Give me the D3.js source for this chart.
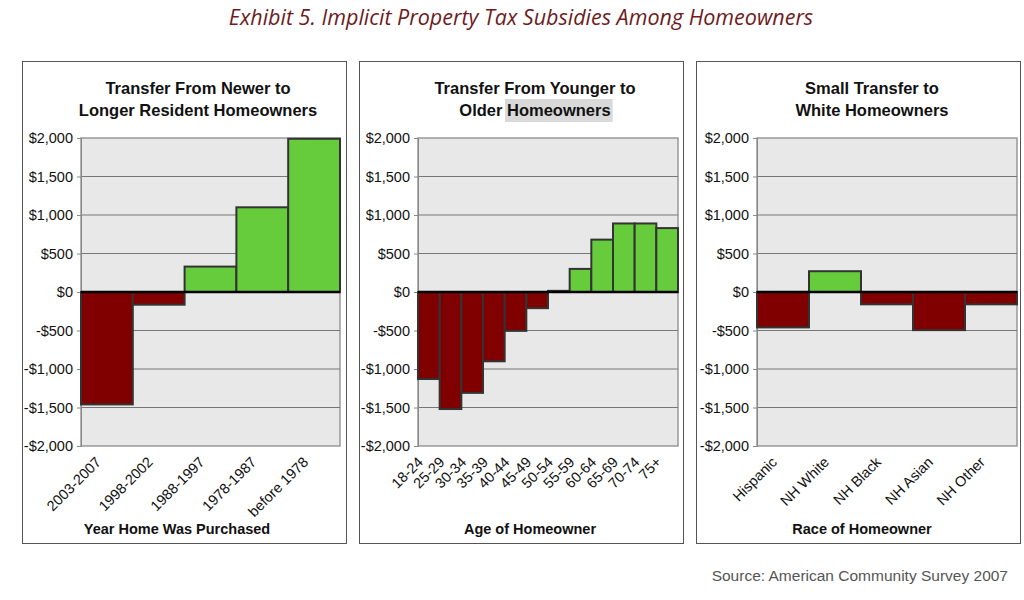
<!DOCTYPE html>
<html lang="en">
<head>
<meta charset="UTF-8">
<title>Exhibit 5</title>
<script src="https://cdn.jsdelivr.net/npm/d3@7"></script>
<style>
  body { margin: 0; background: #fff; }
  svg text { font-family: "Liberation Sans", Arial, sans-serif; }
</style>
</head>
<body>
<div id="chart"></div>
<script>
// data
const yearLabels = ["2003-2007", "1998-2002", "1988-1997", "1978-1987", "before 1978"];
const yearValues = [-1460, -165, 330, 1100, 1990];

const ageLabels = ["18-24", "25-29", "30-34", "35-39", "40-44", "45-49", "50-54", "55-59", "60-64", "65-69", "70-74", "75+"];
const ageValues = [-1130, -1520, -1310, -900, -505, -210, 15, 300, 680, 890, 890, 830];

const raceLabels = ["Hispanic", "NH White", "NH Black", "NH Asian", "NH Other"];
const raceValues = [-460, 270, -160, -495, -160];

const yTicks = [-2000, -1500, -1000, -500, 0, 500, 1000, 1500, 2000];

const width = 1024, height = 600;

const svg = d3.select("#chart").append("svg")
    .attr("width", width)
    .attr("height", height);

svg.append("text")
    .attr("x", 521).attr("y", 25)
    .attr("text-anchor", "middle")
    .style("font-family", "'Open Sans', sans-serif")
    .style("font-style", "italic")
    .style("font-size", "21.5px")
    .attr("fill", "#6e1c22")
    .text("Exhibit 5. Implicit Property Tax Subsidies Among Homeowners");

svg.append("text")
    .attr("x", 1008).attr("y", 581)
    .attr("text-anchor", "end")
    .style("font-size", "15.5px")
    .attr("fill", "#555")
    .text("Source: American Community Survey 2007");

const panels = [
  { box: [22, 346], plot: [81, 340], title: ["Transfer From Newer to", "Longer Resident Homeowners"],
    labels: yearLabels, values: yearValues, xTitle: "Year Home Was Purchased", xTitleX: 177 },
  { box: [359, 683], plot: [418, 678], title: ["Transfer From Younger to", "Older Homeowners"],
    labels: ageLabels, values: ageValues, xTitle: "Age of Homeowner", xTitleX: 530, highlight: "Homeowners" },
  { box: [696, 1020], plot: [757, 1017], title: ["Small Transfer to", "White Homeowners"],
    labels: raceLabels, values: raceValues, xTitle: "Race of Homeowner", xTitleX: 862 }
];

const y = d3.scaleLinear().domain([-2000, 2000]).range([446, 138]);
const fmt = d => (d < 0 ? "-$" : "$") + d3.format(",")(Math.abs(d));

panels.forEach(p => {
  const g = svg.append("g");
  const cx = (p.box[0] + p.box[1]) / 2 + 14;

  g.append("rect")
      .attr("x", p.box[0] + 0.5).attr("y", 61.5)
      .attr("width", p.box[1] - p.box[0]).attr("height", 482)
      .attr("fill", "#fff").attr("stroke", "#555").attr("stroke-width", 1);

  // title, with the grey highlight on the second panel
  const t = g.append("text")
      .attr("text-anchor", "middle")
      .style("font-weight", "bold")
      .style("font-size", "16.5px")
      .attr("fill", "#111");
  p.title.forEach((line, i) => {
    t.append("tspan").attr("x", cx).attr("y", 94 + i * 22).text(line);
  });
  if (p.highlight) {
    const spans = t.selectAll("tspan").nodes();
    const last = spans[spans.length - 1];
    const full = last.getComputedTextLength();
    const hlText = g.append("text").style("font-weight", "bold").style("font-size", "16.5px")
        .attr("visibility", "hidden").text(p.highlight);
    const hw = hlText.node().getComputedTextLength();
    hlText.remove();
    g.insert("rect", "text")
        .attr("x", cx + full / 2 - hw - 2).attr("y", 99)
        .attr("width", hw + 4).attr("height", 23)
        .attr("fill", "#d9d9d9");
  }

  const x = d3.scaleBand().domain(p.labels).range(p.plot).padding(0);

  g.append("rect")
      .attr("x", p.plot[0]).attr("y", y(2000))
      .attr("width", p.plot[1] - p.plot[0]).attr("height", y(-2000) - y(2000))
      .attr("fill", "#e8e8e8").attr("stroke", "#999").attr("stroke-width", 1.5);

  g.selectAll(".grid").data(yTicks.filter(v => v !== 0 && Math.abs(v) !== 2000))
      .join("line")
      .attr("x1", p.plot[0]).attr("x2", p.plot[1])
      .attr("y1", d => y(d)).attr("y2", d => y(d))
      .attr("stroke", "#777").attr("stroke-width", 1);

  const yAxis = g.append("g")
      .attr("transform", `translate(${p.plot[0]},0)`)
      .call(d3.axisLeft(y).tickValues(yTicks).tickFormat(fmt).tickSize(4).tickPadding(4));
  yAxis.select(".domain").attr("stroke", "#888");
  yAxis.selectAll(".tick line").attr("stroke", "#888");
  yAxis.selectAll("text").style("font-size", "14.5px").attr("fill", "#111");

  g.selectAll(".bar").data(p.values)
      .join("rect")
      .attr("x", (d, i) => x(p.labels[i]))
      .attr("width", x.bandwidth())
      .attr("y", d => y(Math.max(0, d)))
      .attr("height", d => Math.abs(y(d) - y(0)))
      .attr("fill", d => d < 0 ? "#800000" : "#66cc3c")
      .attr("stroke", "#333").attr("stroke-width", 2);

  g.append("line")
      .attr("x1", p.plot[0]).attr("x2", p.plot[1])
      .attr("y1", y(0)).attr("y2", y(0))
      .attr("stroke", "#000").attr("stroke-width", 2.5);

  g.selectAll(".xl").data(p.labels)
      .join("text")
      .attr("text-anchor", "end")
      .attr("transform", d => `translate(${x(d) + x.bandwidth() / 2 - 5},${463}) rotate(-45)`)
      .style("font-size", "14.5px")
      .attr("fill", "#111")
      .text(d => d);

  g.append("text")
      .attr("x", p.xTitleX).attr("y", 534)
      .attr("text-anchor", "middle")
      .style("font-weight", "bold")
      .style("font-size", "14.5px")
      .attr("fill", "#111")
      .text(p.xTitle);
});
</script>
</body>
</html>
